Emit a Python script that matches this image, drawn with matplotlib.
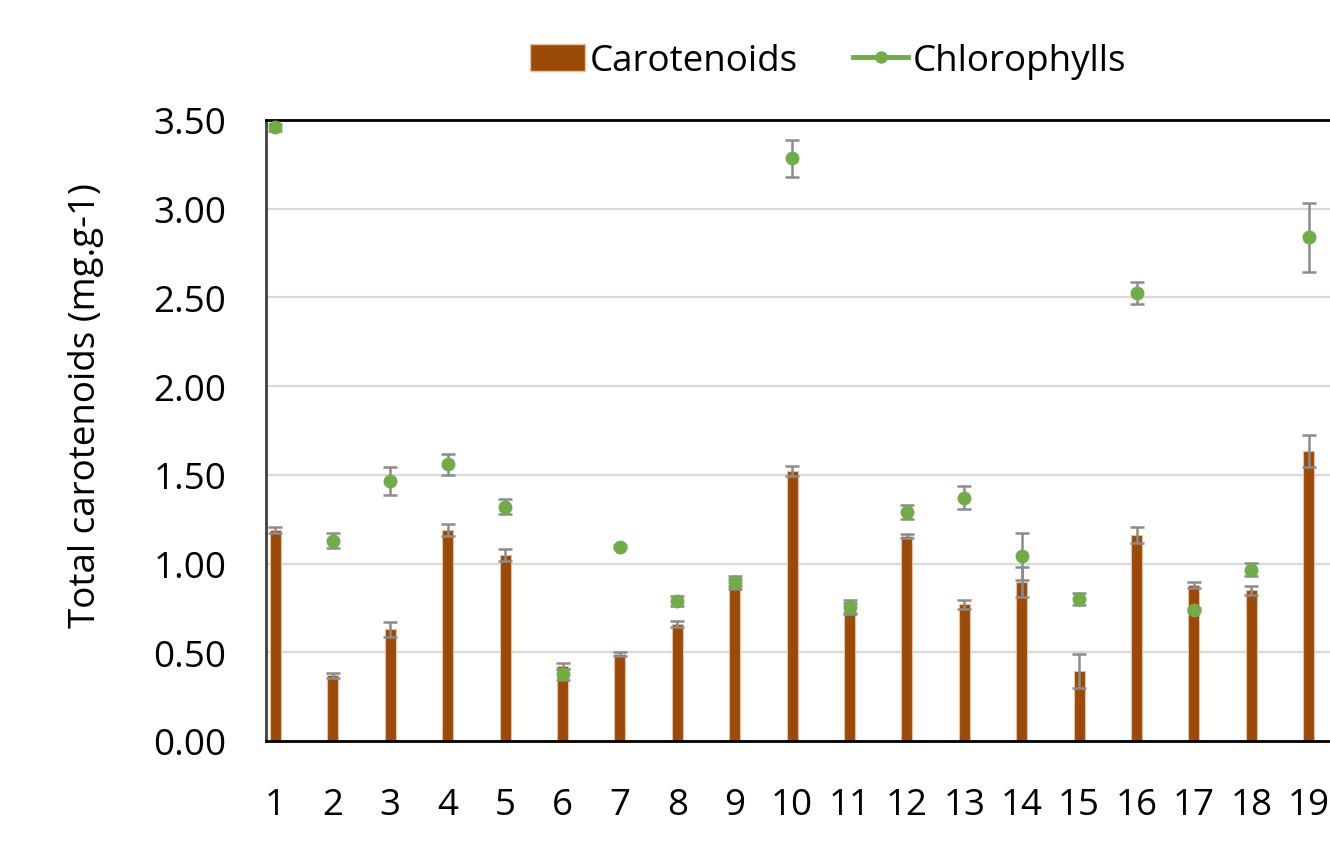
import numpy as np
import matplotlib.pyplot as plt
from matplotlib.lines import Line2D
from matplotlib.patches import Patch

plt.rcParams['font.family'] = ['Open Sans', 'DejaVu Sans']

# data
samples = list(range(1, 20))
carotenoids = [1.19, 0.37, 0.63, 1.19, 1.05, 0.42, 0.49, 0.66, 0.895, 1.52,
               0.75, 1.155, 0.77, 0.895, 0.395, 1.16, 0.88, 0.85, 1.635]
carotenoids_err = [0.018, 0.015, 0.043, 0.035, 0.033, 0.017, 0.01, 0.017, 0.02, 0.028,
                   0.03, 0.01, 0.025, 0.085, 0.097, 0.045, 0.015, 0.025, 0.09]
chlorophylls = [3.46, 1.13, 1.465, 1.56, 1.32, 0.375, 1.095, 0.79, 0.895, 3.285,
                0.755, 1.29, 1.37, 1.04, 0.80, 2.525, 0.74, 0.965, 2.84]
chlorophylls_err = [0.02, 0.042, 0.08, 0.06, 0.043, 0.03, 0.01, 0.03, 0.037, 0.104,
                    0.04, 0.04, 0.065, 0.13, 0.035, 0.06, 0.01, 0.037, 0.195]
yticks = [0.0, 0.5, 1.0, 1.5, 2.0, 2.5, 3.0, 3.5]

bar_color = '#9C4A07'
dot_color = '#70AD47'
err_color = '#8C8C8C'
fs = 26.5

fig = plt.figure(figsize=(13.3, 8.54), dpi=100)
ax = fig.add_axes([265.5 / 1330, 112 / 854, 1 - 265.5 / 1330, 621 / 854])

ax.bar(samples, carotenoids, width=0.19, color=bar_color, edgecolor='#E6C2A6',
       linewidth=0.8, zorder=2)
ax.errorbar(samples, carotenoids, yerr=carotenoids_err, fmt='none', ecolor=err_color,
            elinewidth=1.8, capsize=4.8, capthick=1.8, zorder=3)
ax.errorbar(samples, chlorophylls, yerr=chlorophylls_err, fmt='o', color=dot_color,
            markersize=9, ecolor=err_color, elinewidth=1.8, capsize=4.8, capthick=1.8,
            zorder=4)

ax.set_xlim(0.826, 19.37)
ax.set_ylim(0, 3.5)
ax.set_xticks(samples)
ax.set_xticklabels([str(s) for s in samples])
ax.set_yticks(yticks)
ax.set_yticklabels(['%.2f' % v for v in yticks])
ax.tick_params(axis='both', length=0, labelsize=fs)
ax.tick_params(axis='y', pad=28)
ax.tick_params(axis='x', pad=33)
ax.grid(axis='y', color='#D9D9D9', linewidth=1.6, zorder=0)
ax.set_axisbelow(True)

ax.spines['right'].set_visible(False)
ax.spines['top'].set_color('#000000')
ax.spines['top'].set_linewidth(2)
ax.spines['bottom'].set_color('#000000')
ax.spines['bottom'].set_linewidth(2)
ax.spines['left'].set_color('#404040')
ax.spines['left'].set_linewidth(2)

ax.set_ylabel('Total carotenoids (mg.g-1)', fontsize=fs)
ax.yaxis.set_label_coords(-0.152, 0.541)

handles = [Patch(facecolor=bar_color, edgecolor='#E6C2A6'),
           Line2D([0], [0], color=dot_color, linewidth=3.5, marker='o', markersize=8)]
fig.legend(handles, ['Carotenoids', 'Chlorophylls'], loc='center',
           bbox_to_anchor=(828 / 1330, 1 - 62 / 854), ncol=2, frameon=False,
           fontsize=fs, handlelength=1.5, handleheight=0.75, handletextpad=0.12,
           columnspacing=1.5)

fig.savefig('out.png', dpi=100)
